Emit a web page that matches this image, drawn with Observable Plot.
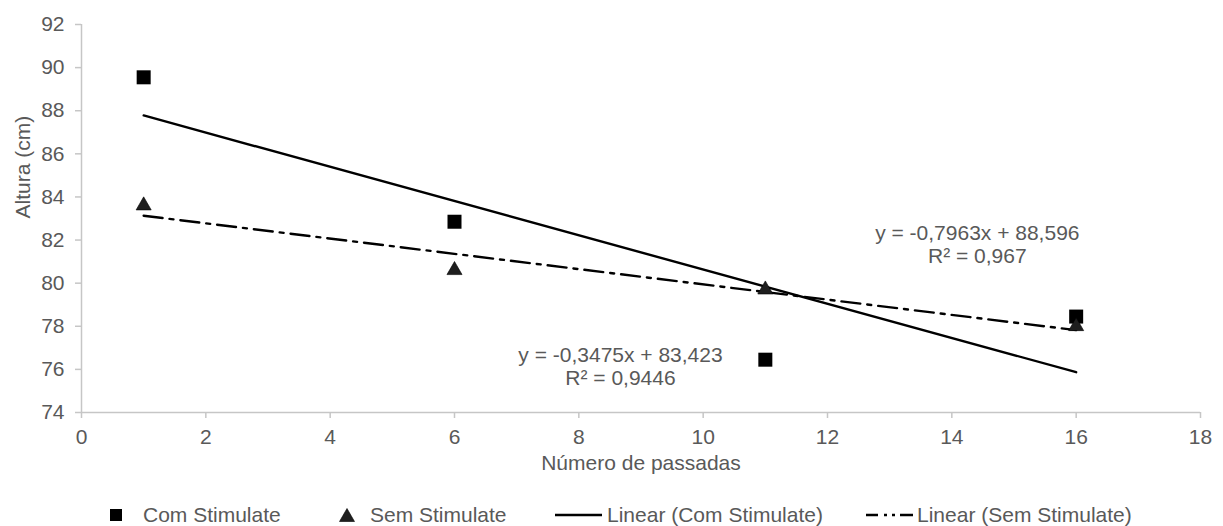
<!DOCTYPE html>
<html>
<head>
<meta charset="utf-8">
<script src="https://cdn.jsdelivr.net/npm/d3@7"></script>
<script src="https://cdn.jsdelivr.net/npm/@observablehq/plot@0.6"></script>
<style>
  html, body { margin: 0; padding: 0; background: #fff; }
  #wrap { position: relative; width: 1223px; height: 526px; font-family: "Liberation Sans", Arial, sans-serif; }
  #legend { position: absolute; left: 0; top: 503px; width: 1223px; height: 24px; font-size: 21px; color: #595959; }
  .li { position: absolute; top: 0; height: 24px; display: flex; align-items: center; white-space: nowrap; }
  .li svg { display: block; }
</style>
</head>
<body>
<div id="wrap"><div id="chart"></div><div id="legend"></div></div>
<script>
// ---- data ----
const passadas = [1, 6, 11, 16];
const comStimulate = [89.55, 82.85, 76.45, 78.45];
const semStimulate = [83.6, 80.6, 79.7, 78.0];
const xTicks = [0, 2, 4, 6, 8, 10, 12, 14, 16, 18];
const yTicks = [74, 76, 78, 80, 82, 84, 86, 88, 90, 92];
const xLabel = "Número de passadas";
const yLabel = "Altura (cm)";
const eqText = ["y = -0,7963x + 88,596\nR² = 0,967", "y = -0,3475x + 83,423\nR² = 0,9446"];
const eqX = [14.41, 8.67];
const eqY = [81.82, 76.16];
const seriesNames = ["Com Stimulate", "Sem Stimulate", "Linear (Com Stimulate)", "Linear (Sem Stimulate)"];

const com = passadas.map((x, i) => ({x, y: comStimulate[i]}));
const sem = passadas.map((x, i) => ({x, y: semStimulate[i]}));
const eqs = eqText.map((t, i) => ({x: eqX[i], y: eqY[i], text: t}));

const grey = "#595959";
const axisGrey = "#c6c6c6";
const dashDot = "19,7,4,7";

const chart = Plot.plot({
  width: 1223,
  height: 500,
  marginLeft: 81,
  marginRight: 23,
  marginTop: 24,
  marginBottom: 88,
  style: {fontFamily: "'Liberation Sans', Arial, sans-serif", fontSize: "21px", background: "#fff", color: grey},
  x: {domain: [0, 18]},
  y: {domain: [74, 92]},
  marks: [
    Plot.ruleY([74], {stroke: axisGrey, strokeWidth: 1.5}),
    Plot.ruleX([0], {stroke: axisGrey, strokeWidth: 1.5}),
    Plot.axisX({ticks: xTicks, tickSize: 6, tickPadding: 11, stroke: axisGrey, fill: grey, strokeWidth: 1.5, label: null, tickFormat: d => String(d)}),
    Plot.axisY({ticks: yTicks, tickSize: 6, tickPadding: 11, stroke: axisGrey, fill: grey, strokeWidth: 1.5, label: null, tickFormat: d => String(d)}),
    Plot.text([xLabel], {frameAnchor: "bottom", dy: 57, fill: grey, fontSize: 21}),
    Plot.text([yLabel], {frameAnchor: "left", dx: -58, rotate: -90, fill: grey, fontSize: 21}),
    Plot.linearRegressionY(com, {x: "x", y: "y", ci: 0, stroke: "#000", strokeWidth: 2.4}),
    Plot.linearRegressionY(sem, {x: "x", y: "y", ci: 0, stroke: "#000", strokeWidth: 2.4, strokeDasharray: dashDot}),
    Plot.dot(com, {x: "x", y: "y", symbol: "square", r: 7.9, fill: "#000", stroke: "none"}),
    Plot.dot(sem, {x: "x", y: "y", symbol: "triangle", r: 5.6, fill: "#1e1e1e", stroke: "#000", strokeWidth: 0.6}),
    Plot.text(eqs, {x: "x", y: "y", text: "text", fill: grey, fontSize: 21, lineHeight: 1.1, textAnchor: "middle"})
  ]
});
document.getElementById("chart").appendChild(chart);

// ---- legend ----
const legend = document.getElementById("legend");
const swatches = [
  `<svg width="14" height="14"><rect x="1" y="1" width="12" height="12" fill="#000"/></svg>`,
  `<svg width="16" height="14"><path d="M8 0.5 L15.5 13.5 L0.5 13.5 Z" fill="#1e1e1e" stroke="#000" stroke-width="0.6"/></svg>`,
  `<svg width="47" height="6"><line x1="0" y1="3" x2="47" y2="3" stroke="#000" stroke-width="2.4"/></svg>`,
  `<svg width="47" height="6"><line x1="0" y1="3" x2="47" y2="3" stroke="#000" stroke-width="2.4" stroke-dasharray="12,6,3,5,3,5,12,0"/></svg>`
];
const leftPos = [109, 339, 555, 866];
const gaps = [20, 15, 5, 4];
seriesNames.forEach((name, i) => {
  const d = document.createElement("div");
  d.className = "li";
  d.style.left = leftPos[i] + "px";
  d.innerHTML = swatches[i] + `<span style="margin-left:${gaps[i]}px">${name}</span>`;
  legend.appendChild(d);
});
</script>
</body>
</html>
